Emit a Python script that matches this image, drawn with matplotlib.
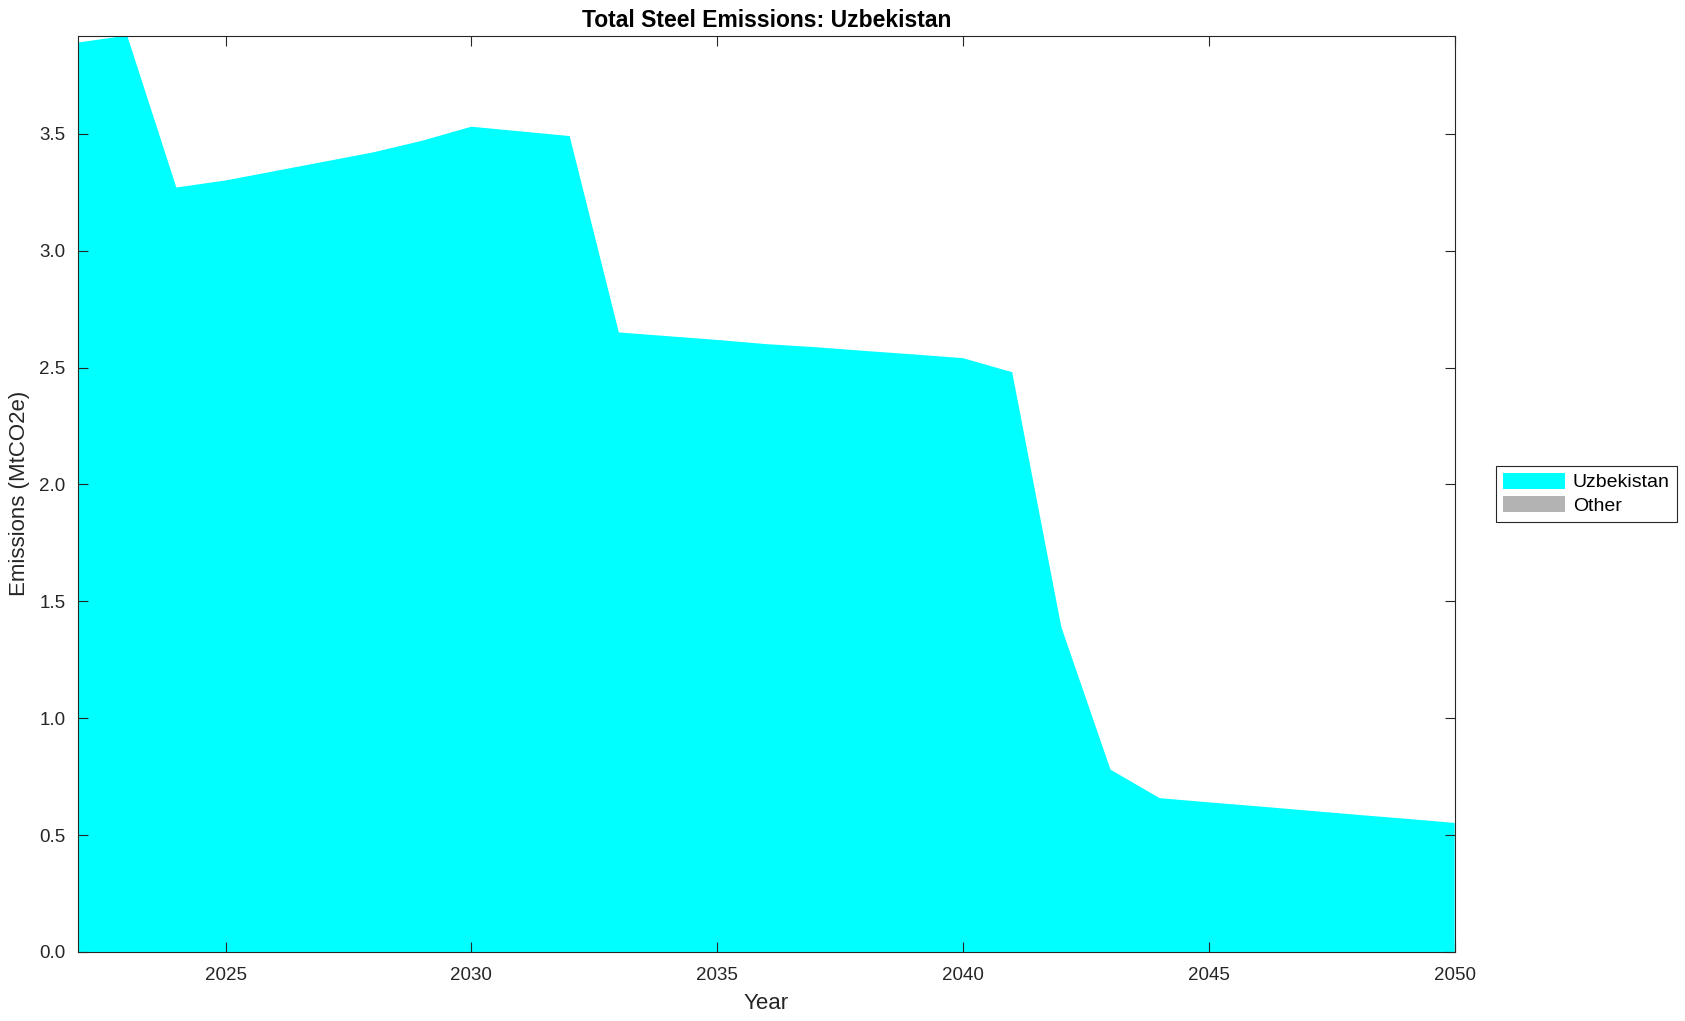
import matplotlib.pyplot as plt
import numpy as np

plt.rcParams['font.family'] = ['Liberation Sans', 'DejaVu Sans']

years = np.arange(2022, 2051)
uzbekistan = [3.89, 3.92, 3.27, 3.30, 3.34, 3.38, 3.42, 3.47, 3.53, 3.51,
              3.49, 2.65, 2.634, 2.618, 2.60, 2.587, 2.571, 2.556, 2.54, 2.48,
              1.39, 0.78, 0.658, 0.64, 0.623, 0.605, 0.587, 0.57, 0.552]
other = [0.0] * len(years)

labels = ['Uzbekistan', 'Other']
colors = ['#00ffff', '#b3b3b3']

fig = plt.figure(figsize=(16.85, 10.21), dpi=100)
ax = fig.add_axes([0.0463, 0.0676, 0.817, 0.8976])

ax.stackplot(years, uzbekistan, other, labels=labels, colors=colors, linewidth=0)

ax.set_xlim(2022, 2050)
ax.set_ylim(0, max(uzbekistan))
ax.set_xticks(range(2025, 2051, 5))
ax.set_yticks(np.arange(0, 3.6, 0.5))
ax.yaxis.set_major_formatter(plt.FormatStrFormatter('%.1f'))

dark = '#262626'
ax.tick_params(direction='in', top=True, right=True, length=7, width=0.8,
               labelsize=13.5, colors=dark, pad=9)
ax.tick_params(axis='x', pad=11)
for s in ax.spines.values():
    s.set_color(dark)
    s.set_linewidth(0.8)
ax.set_axisbelow(False)

ax.set_xlabel('Year', fontsize=16, color=dark, labelpad=6)
ax.set_ylabel('Emissions (MtCO2e)', fontsize=16, color=dark, labelpad=7)
ax.set_title('Total Steel Emissions: Uzbekistan', fontsize=16.5, fontweight='bold', pad=6)

leg = ax.legend(loc='center left', bbox_to_anchor=(1.023, 0.5), fontsize=14,
                fancybox=False, edgecolor=dark, framealpha=1, handlelength=3.2,
                handleheight=0.9, borderpad=0.35, labelspacing=0.25, handletextpad=0.4)
leg.get_frame().set_linewidth(0.8)

fig.savefig('out.png', dpi=100)
